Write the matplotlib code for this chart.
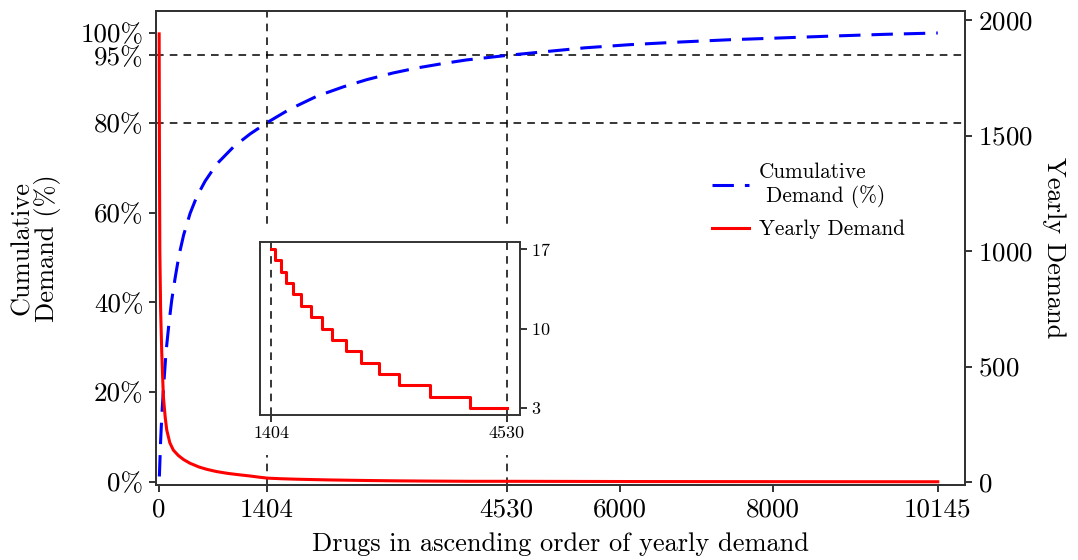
import matplotlib
matplotlib.use("Agg")
import matplotlib.pyplot as plt
from matplotlib.patches import Rectangle

plt.rcParams['font.family'] = 'serif'
plt.rcParams['font.serif'] = ['cmr10', 'DejaVu Serif']
plt.rcParams['mathtext.fontset'] = 'cm'
plt.rcParams['axes.unicode_minus'] = False
plt.rcParams['axes.formatter.use_mathtext'] = True

# cumulative demand (%)
cum_rank = [4, 20, 35, 56, 91, 130, 165, 210, 260, 320, 404, 490, 600, 751, 968, 1185, 1404,
            1700, 2054, 2400, 2705, 3050, 3356, 3700, 4007, 4530, 5005, 5550, 6134, 6800,
            7436, 8100, 8738, 9450, 10145]
cum_pct = [1.2, 9.0, 14.5, 20.5, 29.0, 35.5, 40.5, 45.5, 50.5, 55.0, 59.8, 63.5, 67.0, 70.8, 74.6, 77.5, 80.0,
           83.0, 85.9, 88.0, 89.6, 91.1, 92.2, 93.2, 94.0, 95.0, 95.8, 96.7, 97.4, 98.0,
           98.5, 98.9, 99.3, 99.7, 100.0]

# yearly demand per drug, head of the red curve (before the zoomed part)
head_rank = [1, 5, 10, 20, 35, 56, 80, 100, 140, 186, 250, 320, 404, 520, 620, 751, 900, 1050, 1185, 1300]
head_val = [1940, 1400, 1000, 750, 560, 370, 280, 225, 170, 138, 115, 97, 81, 65, 55, 45, 37, 31, 26, 21]

# step breakpoints for the zoomed part (1404 .. 4530), shown in the inset
step_rank = [1404, 1457, 1532, 1602, 1699, 1801, 1933, 2074, 2206, 2396, 2594, 2837, 3101, 3507, 4045, 4530]
step_val = [17, 16, 15, 14, 13, 12, 11, 10, 9, 8, 7, 6, 5, 4, 3, 3]

# tail of the red curve
tail_rank = [6160, 10145]
tail_val = [2, 1]

marks = [1404, 4530]
x_ticks = [0, 1404, 4530, 6000, 8000, 10145]
pct_ticks = [0, 20, 40, 60, 80, 95, 100]
dem_ticks = [0, 500, 1000, 1500, 2000]

W, H = 1078, 560
fig = plt.figure(figsize=(W / 100, H / 100), dpi=100)
ax = fig.add_axes([156 / W, 1 - 485 / H, (965 - 156) / W, (485 - 11) / H])
ax2 = ax.twinx()

spine_c = '#333333'
ref = dict(color='black', lw=1.1, dashes=(5, 4), zorder=1)
for v in marks:
    ax.axvline(v, **ref)
ax.axhline(80, **ref)
ax.axhline(95, **ref)

blue, = ax.plot(cum_rank, cum_pct, color='blue', lw=2.2, dashes=(7, 3.6), zorder=3)
red, = ax2.plot(head_rank + step_rank + tail_rank, head_val + step_val + tail_val,
                color='red', lw=2.2, zorder=3)

ax.set_xlim(-40, 10500)
ax.set_ylim(-0.7, 104.9)
ax2.set_ylim(-13, 2039)
ax.set_xticks(x_ticks)
ax.set_xticklabels([str(t) for t in x_ticks])
ax.set_yticks(pct_ticks)
ax.set_yticklabels([f'{t}%' for t in pct_ticks])
ax2.set_yticks(dem_ticks)

for a in (ax, ax2):
    for s in a.spines.values():
        s.set_color(spine_c)
        s.set_linewidth(1.4)
    a.tick_params(labelsize=19.5, length=5, width=1.4, color=spine_c, pad=4)

ax.set_xlabel('Drugs in ascending order of yearly demand', fontsize=19, labelpad=8)
ax.set_ylabel('Cumulative\nDemand (%)', fontsize=19, labelpad=14, linespacing=1.0)
ax2.set_ylabel('Yearly Demand', fontsize=19, rotation=270, labelpad=24)

# white panel behind the inset
ax2.add_patch(Rectangle((235 / W, 1 - 455 / H), 305 / W, 230 / H, transform=fig.transFigure,
                        facecolor='white', edgecolor='none', zorder=10, clip_on=False))

leg = ax2.legend([blue, red], ['Cumulative\n Demand (%)', 'Yearly Demand'],
                 loc='upper left', bbox_to_anchor=(693 / W, 1 - 143 / H),
                 bbox_transform=fig.transFigure, frameon=False, fontsize=15.3,
                 handlelength=1.75, handletextpad=0.45, labelspacing=0.55)
leg.set_zorder(20)

# inset
axi = fig.add_axes([260 / W, 1 - 415 / H, 260 / W, 173 / H])
axi.step(step_rank, step_val, where='post', color='red', lw=2.2, zorder=3)
for v in marks:
    axi.axvline(v, color='black', lw=1.1, dashes=(5, 4), zorder=1)
axi.set_xlim(1258, 4702)
axi.set_ylim(2.38, 17.62)
axi.set_xticks(marks)
axi.set_xticklabels([str(m) for m in marks])
axi.yaxis.tick_right()
axi.set_yticks([3, 10, 17])
for s in axi.spines.values():
    s.set_color(spine_c)
    s.set_linewidth(1.4)
axi.tick_params(labelsize=13, length=5, width=1.4, color=spine_c, pad=3)

fig.savefig('out.png', dpi=100)
